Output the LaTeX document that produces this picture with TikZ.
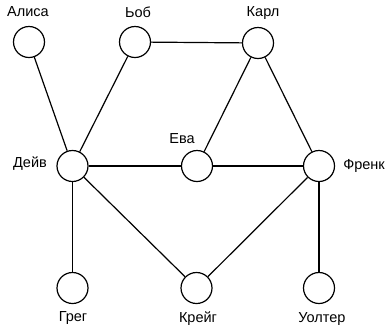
\documentclass[tikz,border=0pt]{standalone}
\usepackage{fontspec}
\setmainfont{Liberation Sans}
\begin{document}
\begin{tikzpicture}[x=1pt,y=-1pt,
  vertex/.style={circle,draw,line width=1.2pt,minimum size=31pt,inner sep=0pt},
  lbl/.style={font=\fontsize{14.5pt}{17pt}\selectfont,inner sep=0pt},
  edge/.style={line width=1.2pt}]
\useasboundingbox (0,0) rectangle (387,333);
% vertices
\node[vertex] (alisa) at (29,42) {};
\node[vertex] (bob) at (135,42) {};
\node[vertex] (karl) at (258,43) {};
\node[vertex] (deiv) at (72.5,166) {};
\node[vertex] (eva) at (197,166) {};
\node[vertex] (frenk) at (319,166) {};
\node[vertex] (greg) at (72.5,288) {};
\node[vertex] (kreig) at (196.5,288) {};
\node[vertex] (uolter) at (319,288) {};
% names
\node[lbl] (lalisa) at (28,12) {Алиса};
\node[lbl] (lbob) at (138,12) {Ьоб};
\node[lbl] (lkarl) at (263,13) {Карл};
\node[lbl] (ldeiv) at (30,164) {Дейв};
\node[lbl] (leva) at (182,139) {Ева};
\node[lbl] (lfrenk) at (364,166) {Френк};
\node[lbl] (lgreg) at (73,318) {Грег};
\node[lbl] (lkreig) at (198,319) {Крейг};
\node[lbl] (luolter) at (322,319) {Уолтер};
% edges
\draw[edge] (alisa) -- (deiv);
\draw[edge] (bob) -- (deiv);
\draw[edge] (bob) -- (karl);
\draw[edge] (karl) -- (eva);
\draw[edge] (karl) -- (frenk);
\draw[edge] (deiv) -- (eva);
\draw[edge] (eva) -- (frenk);
\draw[edge] (deiv) -- (greg);
\draw[edge] (deiv) -- (kreig);
\draw[edge] (kreig) -- (frenk);
\draw[edge] (frenk) -- (uolter);
\end{tikzpicture}
\end{document}
